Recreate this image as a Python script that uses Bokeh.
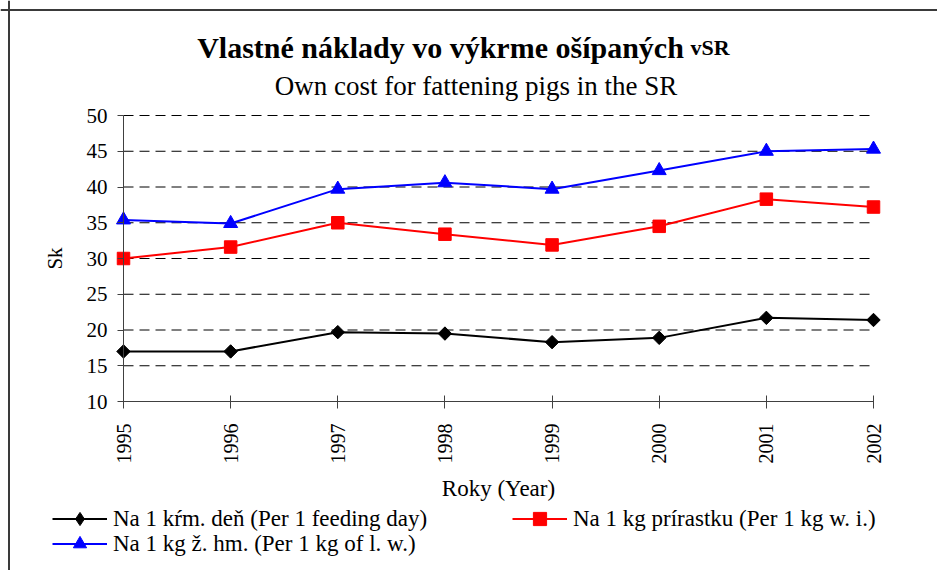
import numpy as np
from bokeh.plotting import figure
from bokeh.models import (Label, Legend, LegendItem, FixedTicker, ColumnDataSource, Range1d, Span)
from bokeh.embed import file_html
from bokeh.resources import INLINE
from bokeh.core.properties import value

# ---- data ----
years = [1995, 1996, 1997, 1998, 1999, 2000, 2001, 2002]
feeding_day = [17.0, 17.0, 19.7, 19.5, 18.3, 18.9, 21.7, 21.4]
kg_gain = [30.0, 31.6, 35.0, 33.4, 31.9, 34.5, 38.3, 37.2]
kg_live = [35.4, 34.9, 39.7, 40.6, 39.7, 42.3, 45.0, 45.3]
y_ticks = [10, 15, 20, 25, 30, 35, 40, 45, 50]
series_labels = [
    "Na 1 kŕm. deň (Per 1 feeding day)",
    "Na 1 kg prírastku (Per 1 kg w. i.)",
    "Na 1 kg ž. hm. (Per 1 kg of l. w.)",
]
title_main = "Vlastné náklady vo výkrme ošípaných"
title_suffix = "vSR"
subtitle = "Own cost for fattening pigs in the SR"
x_title = "Roky (Year)"
y_title = "Sk"

FONT = "Liberation Serif"
AX = "#404040"

# ---- layout (canvas pixels) ----
W, H = 937, 570
X0_PX, X1_PX = 123, 873        # where first / last year sit
Y_TOP_PX, Y_BOT_PX = 115, 401  # where top / bottom y tick sit (from canvas top)
xs = (X1_PX - X0_PX) / (years[-1] - years[0])
ys = (Y_BOT_PX - Y_TOP_PX) / (y_ticks[-1] - y_ticks[0])
x_start = years[0] - X0_PX / xs
x_end = x_start + W / xs
y_end = y_ticks[-1] + Y_TOP_PX / ys
y_start = y_end - H / ys

p = figure(width=W, height=H, output_backend="svg", toolbar_location=None,
           x_range=Range1d(x_start, x_end), y_range=Range1d(y_start, y_end),
           min_border=0, min_border_left=0, min_border_right=0,
           min_border_top=0, min_border_bottom=0)
p.outline_line_color = None
p.background_fill_color = "white"
p.border_fill_color = "white"
p.xgrid.visible = False
p.ygrid.visible = False

# outer frame lines (left and top)
p.add_layout(Span(location=8.5, location_units="screen", dimension="height",
                  line_color="#3a3a3a", line_width=2))
p.add_layout(Span(location=H - 9.5, location_units="screen", dimension="width",
                  line_color="#3a3a3a", line_width=2))

# dashed horizontal grid lines
p.segment(x0=years[0], x1=years[-1], y0=y_ticks[1:], y1=y_ticks[1:],
          line_color="black", line_width=1, line_dash="10 6")

# x axis
xa = p.xaxis[0]
xa.fixed_location = y_ticks[0]
xa.bounds = (years[0], years[-1])
xa.ticker = FixedTicker(ticks=years)
xa.major_label_orientation = np.pi / 2
xa.major_tick_in = 6
xa.major_tick_out = 7
xa.minor_tick_line_color = None
xa.axis_line_color = AX
xa.major_tick_line_color = AX
xa.major_label_text_font = FONT
xa.major_label_text_font_size = "20px"
xa.major_label_text_color = "black"
xa.major_label_standoff = 15
xa.axis_label = x_title
xa.axis_label_text_font = FONT
xa.axis_label_text_font_style = "normal"
xa.axis_label_text_font_size = "23px"
xa.axis_label_text_color = "black"
xa.axis_label_standoff = 9

# y axis
ya = p.yaxis[0]
ya.fixed_location = years[0]
ya.bounds = (y_ticks[0], y_ticks[-1])
ya.ticker = FixedTicker(ticks=y_ticks)
ya.major_tick_in = 0
ya.major_tick_out = 6
ya.minor_tick_line_color = None
ya.axis_line_color = AX
ya.major_tick_line_color = AX
ya.major_label_text_font = FONT
ya.major_label_text_font_size = "21px"
ya.major_label_text_color = "black"
ya.major_label_standoff = 10
ya.axis_label = y_title
ya.axis_label_text_font = FONT
ya.axis_label_text_font_style = "normal"
ya.axis_label_text_font_size = "21px"
ya.axis_label_text_color = "black"
ya.axis_label_standoff = 17

src = ColumnDataSource(dict(year=years, a=feeding_day, b=kg_gain, c=kg_live))

l1 = p.line("year", "a", source=src, line_color="black", line_width=2)
# diamond marker (used as legend key), covered by a rotated square of equal colour
m1_key = p.scatter("year", "a", source=src, marker="diamond", size=12,
                   fill_color="black", line_color="black")
m1 = p.scatter("year", "a", source=src, marker="square", angle=np.pi / 4, size=9.5,
               fill_color="black", line_color="black")
l2 = p.line("year", "b", source=src, line_color="#ff0000", line_width=2)
m2 = p.scatter("year", "b", source=src, marker="square", size=12.5,
               fill_color="#ff0000", line_color="#ff0000")
l3 = p.line("year", "c", source=src, line_color="#0000ff", line_width=2)
m3 = p.scatter("year", "c", source=src, marker="triangle", size=14,
               fill_color="#0000ff", line_color="#0000ff")


def mk_legend(label, rs, loc):
    lg = Legend(items=[LegendItem(label=value(label), renderers=rs)], location=loc,
                orientation="horizontal", padding=0, margin=0, spacing=0,
                border_line_color=None, background_fill_alpha=0,
                glyph_width=55, glyph_height=33, label_standoff=6, label_height=20,
                label_text_font=FONT, label_text_font_size="23px",
                label_text_color="black")
    p.add_layout(lg)


mk_legend(series_labels[0], [l1, m1_key], (52, 35))
mk_legend(series_labels[1], [l2, m2], (512, 35))
mk_legend(series_labels[2], [l3, m3], (52, 10))

# titles
p.add_layout(Label(x=440, y=523, x_units="screen", y_units="screen", text=title_main,
                   text_align="center", text_baseline="alphabetic", text_font=FONT,
                   text_font_size="30px", text_font_style="bold", text_color="black"))
p.add_layout(Label(x=690, y=523, x_units="screen", y_units="screen", text=title_suffix,
                   text_align="left", text_baseline="alphabetic", text_font=FONT,
                   text_font_size="22px", text_font_style="bold", text_color="black"))
p.add_layout(Label(x=475.5, y=485, x_units="screen", y_units="screen", text=subtitle,
                   text_align="center", text_baseline="alphabetic", text_font=FONT,
                   text_font_size="27px", text_color="black"))

open("out.html", "w").write(file_html(p, INLINE))
